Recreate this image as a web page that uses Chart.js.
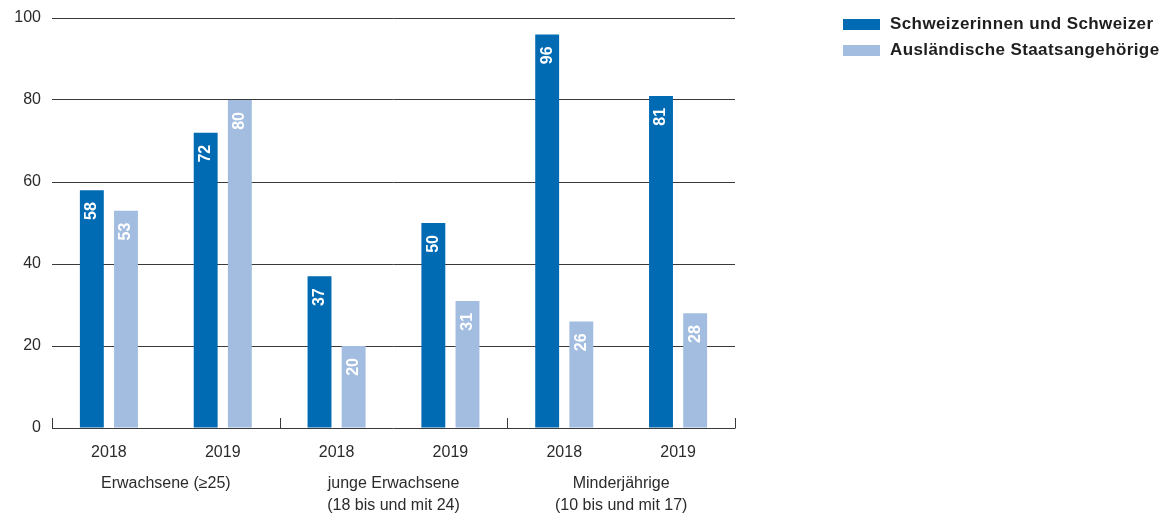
<!DOCTYPE html>
<html lang="de">
<head>
<meta charset="utf-8">
<title>Schweizer und ausländische Staatsangehörige</title>
<script src="https://cdn.jsdelivr.net/npm/chart.js@4.4.1/dist/chart.umd.min.js"></script>
<style>
  body { margin: 0; background: #fff; font-family: "Liberation Sans", Arial, sans-serif; }
  #wrap { position: relative; width: 1173px; height: 520px; }
  #legend { position: absolute; left: 843px; top: 11px; color: #1e1e1e; font-weight: bold; font-size: 17px; letter-spacing: 0.4px; }
  #legend div { display: flex; align-items: center; height: 26px; }
  #legend span.box { display: inline-block; width: 37px; height: 11px; margin-right: 10px; }
</style>
</head>
<body>
<div id="wrap">
  <canvas id="barChart" width="1173" height="520"></canvas>
  <div id="legend"></div>
</div>
<script>
// Daten
const years = ['2018', '2019', '2018', '2019', '2018', '2019'];
const groups = [['Erwachsene (≥25)'], ['junge Erwachsene', '(18 bis und mit 24)'], ['Minderjährige', '(10 bis und mit 17)']];
const seriesNames = ['Schweizerinnen und Schweizer', 'Ausländische Staatsangehörige'];
const swiss = [58, 72, 37, 50, 96, 81];
const foreign = [53, 80, 20, 31, 26, 28];
const yTicks = [0, 20, 40, 60, 80, 100];

const colors = ['#006ab3', '#a3bde1'];
const textColor = '#2b2b2b';
const lineColor = '#3a3a3a';
const fontFamily = '"Liberation Sans", Arial, sans-serif';

// Werte senkrecht in die Balken schreiben
const barValueLabels = {
    id: 'barValueLabels',
    afterDatasetsDraw(chart) {
        const ctx = chart.ctx;
        ctx.save();
        ctx.fillStyle = '#fff';
        ctx.font = 'bold 16px ' + fontFamily;
        ctx.textAlign = 'right';
        ctx.textBaseline = 'middle';
        chart.data.datasets.forEach((ds, i) => {
            chart.getDatasetMeta(i).data.forEach((bar, j) => {
                ctx.save();
                ctx.translate(bar.x, bar.y + 12);
                ctx.rotate(-Math.PI / 2);
                ctx.fillText(String(ds.data[j]), 0, 0);
                ctx.restore();
            });
        });
        ctx.restore();
    }
};

// Gruppenbeschriftung und Trennstriche unter der x-Achse
const groupAxis = {
    id: 'groupAxis',
    afterDraw(chart) {
        const ctx = chart.ctx;
        const x = chart.scales.x;
        const bottom = chart.chartArea.bottom;
        const half = (x.getPixelForValue(1) - x.getPixelForValue(0)) / 2;
        ctx.save();
        ctx.strokeStyle = lineColor;
        ctx.lineWidth = 1;
        for (let g = 0; g <= groups.length; g++) {
            const px = Math.round(x.getPixelForValue(g * 2) - half) + 0.5;
            ctx.beginPath();
            ctx.moveTo(px, bottom - 10);
            ctx.lineTo(px, bottom + 0.5);
            ctx.stroke();
        }
        ctx.fillStyle = textColor;
        ctx.font = '16px ' + fontFamily;
        ctx.textAlign = 'center';
        ctx.textBaseline = 'middle';
        groups.forEach((lines, g) => {
            const cx = (x.getPixelForValue(g * 2) + x.getPixelForValue(g * 2 + 1)) / 2;
            lines.forEach((line, k) => {
                ctx.fillText(line, cx, bottom + 56 + k * 22);
            });
        });
        ctx.restore();
    }
};

const ctx = document.getElementById('barChart').getContext('2d');
const barChart = new Chart(ctx, {
    type: 'bar',
    data: {
        labels: years,
        datasets: [
            { label: seriesNames[0], data: swiss, backgroundColor: colors[0] },
            { label: seriesNames[1], data: foreign, backgroundColor: colors[1] }
        ]
    },
    options: {
        responsive: false,
        animation: false,
        layout: { padding: { top: 18, right: 438, left: 0, bottom: 0 } },
        datasets: { bar: { categoryPercentage: 0.6, barPercentage: 0.7 } },
        plugins: {
            legend: { display: false },
            tooltip: { enabled: false }
        },
        scales: {
            x: {
                grid: { display: false, drawTicks: false },
                border: { display: false },
                ticks: { color: textColor, font: { family: fontFamily, size: 16 }, padding: 15 },
                afterFit(scale) { scale.height = 92; }
            },
            y: {
                min: 0,
                max: 100,
                afterBuildTicks(scale) { scale.ticks = yTicks.map(v => ({ value: v })); },
                grid: { color: lineColor, lineWidth: 1, drawTicks: false },
                border: { display: false },
                ticks: { color: textColor, font: { family: fontFamily, size: 16 }, padding: 11 },
                afterFit(scale) {
                    scale.width = 52;
                    scale.paddingTop = 0;
                    scale.paddingBottom = 0;
                }
            }
        }
    },
    plugins: [barValueLabels, groupAxis]
});

// Legende
const legendEl = document.getElementById('legend');
seriesNames.forEach((name, i) => {
    const row = document.createElement('div');
    const box = document.createElement('span');
    box.className = 'box';
    box.style.background = colors[i];
    row.appendChild(box);
    row.appendChild(document.createTextNode(name));
    legendEl.appendChild(row);
});
</script>
</body>
</html>
